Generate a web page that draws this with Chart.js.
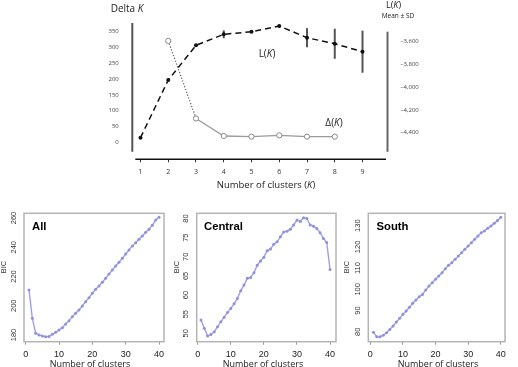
<!DOCTYPE html>
<html><head><meta charset="utf-8">
<script src="https://cdn.jsdelivr.net/npm/chart.js@4.4.1/dist/chart.umd.min.js"></script>
<style>
html,body{margin:0;padding:0;background:#fff;}
body{width:518px;height:367px;position:relative;overflow:hidden;font-family:'Open Sans',sans-serif;color:#222;}
canvas{position:absolute;}
.t{position:absolute;white-space:nowrap;line-height:1;transform:translate(-50%,-50%);}
.b{position:absolute;white-space:nowrap;line-height:1;transform:translate(0,-50%);font-family:'Liberation Sans',Arial,sans-serif;font-weight:bold;font-size:11.3px;color:#000;}
.r{position:absolute;white-space:nowrap;line-height:1;transform:translate(-50%,-50%) rotate(-90deg);font-family:'Liberation Sans',Arial,sans-serif;font-size:7.5px;color:#333;}
</style></head><body>
<canvas id="c0" width="518" height="200" style="left:0;top:0"></canvas>
<canvas id="c1" width="172" height="167" style="left:0;top:200px"></canvas>
<canvas id="c2" width="172" height="167" style="left:172px;top:200px"></canvas>
<canvas id="c3" width="174" height="167" style="left:344px;top:200px"></canvas>

<div class="t" style="left:127px;top:7.5px;font-size:10px">Delta <i>K</i></div>
<div class="t" style="left:393.5px;top:4px;font-size:9px">L(<i>K</i>)</div>
<div class="t" style="left:398px;top:16px;font-size:6.5px">Mean ± SD</div>
<div class="t" style="left:267px;top:53px;font-size:10px">L(<i>K</i>)</div>
<div class="t" style="left:334px;top:122px;font-size:10px">Δ(<i>K</i>)</div>
<div class="t" style="left:266px;top:185px;font-size:9.5px">Number of clusters (<i>K</i>)</div>

<div class="b" style="left:32px;top:227px">All</div>
<div class="b" style="left:204px;top:227px">Central</div>
<div class="b" style="left:376.5px;top:227px">South</div>
<div class="r" style="left:4px;top:267px">BIC</div>
<div class="r" style="left:177px;top:267px">BIC</div>
<div class="r" style="left:347px;top:267px">BIC</div>
<div class="t" style="left:90px;top:363px;font-size:9px">Number of clusters</div>
<div class="t" style="left:263px;top:363px;font-size:9px">Number of clusters</div>
<div class="t" style="left:438px;top:363px;font-size:9px">Number of clusters</div>

<script>
// ---------- data: top panel ----------
const topK = [1, 2, 3, 4, 5, 6, 7, 8, 9];
const deltaK = [null, 319, 76, 21, 19, 23, 19, 19, null];
const meanLK = [-4444, -3937, -3632, -3535, -3512, -3462, -3565, -3618, -3688];
const sdLK = [0, 0, 0, 35, 0, 0, 84, 132, 185];
const deltaTicks = [0, 50, 100, 150, 200, 250, 300, 350];
const lkTicks = [-3600, -3800, -4000, -4200, -4400];

// ---------- data: BIC panels ----------
const bicK = [1,2,3,4,5,6,7,8,9,10,11,12,13,14,15,16,17,18,19,20,21,22,23,24,25,26,27,28,29,30,31,32,33,34,35,36,37,38,39,40];
const bicAll = [210.8,191.4,181.2,180,179.3,178.8,179,180.5,181.8,183.4,185,187.5,189.8,192.5,194.8,197.1,199.8,202.8,205.5,208.5,211.2,213.5,216,218.8,221.7,224.4,227.2,229.7,232.4,235.4,238.1,240.9,243.1,245.4,247.7,250.2,252.3,255,258.6,260.5];
const bicCentral = [53.5,51.3,49.3,49.7,50.4,51.7,53,54.2,55.4,56.5,57.7,59.1,61.1,62.6,64.4,64.6,65.8,67.8,68.9,69.9,71.6,72,73.3,73.9,75.2,76.5,76.7,77.2,78.3,79.6,79.2,80.2,80,78.3,78,77.4,76.3,74.8,73.7,66.7];
const bicSouth = [79.7,77.6,77.6,78.4,79.5,81.1,82.7,84.6,86.3,88.2,89.8,91.5,93.4,95,96.5,97.6,99.7,101.6,103.1,104.7,106.3,107.8,109.7,111.3,112.5,114.2,115.7,117.3,118.9,120.4,122,123.6,125.1,126.7,127.5,128.8,129.9,131.1,132.4,134];
const bicXTicks = [0, 10, 20, 30, 40];
const allTicks = [180, 200, 220, 240, 260];
const centralTicks = [50, 55, 60, 65, 70, 75, 80];
const southTicks = [80, 90, 100, 110, 120, 130];

const OPEN = "'Open Sans', sans-serif";
const ARIAL = "'Liberation Sans', Arial, sans-serif";
const setTicks = arr => s => { s.ticks = arr.map(v => ({value: v})); };

// ---------- top panel ----------
const topAxes = {
  id: 'topAxes',
  afterDraw(chart) {
    const {ctx, chartArea: a} = chart;
    ctx.save();
    ctx.strokeStyle = '#555'; ctx.lineWidth = 2;
    ctx.beginPath(); ctx.moveTo(a.left, a.top); ctx.lineTo(a.left, a.bottom - 7.5); ctx.stroke();
    ctx.strokeStyle = '#666';
    ctx.beginPath(); ctx.moveTo(a.right, a.top + 8.7); ctx.lineTo(a.right, a.bottom - 7.5); ctx.stroke();
    ctx.strokeStyle = '#111'; ctx.lineWidth = 1.5;
    ctx.beginPath(); ctx.moveTo(a.left + 3, a.bottom); ctx.lineTo(a.right - 1.5, a.bottom); ctx.stroke();
    ctx.restore();
  }
};
const errBars = {
  id: 'errBars',
  beforeDatasetsDraw(chart) {
    const {ctx} = chart, xs = chart.scales.x, ys = chart.scales.yR;
    ctx.save();
    ctx.strokeStyle = '#555'; ctx.lineWidth = 2;
    topK.forEach((k, i) => {
      if (!sdLK[i]) return;
      const px = xs.getPixelForValue(k);
      ctx.beginPath();
      ctx.moveTo(px, ys.getPixelForValue(meanLK[i] + sdLK[i]));
      ctx.lineTo(px, ys.getPixelForValue(meanLK[i] - sdLK[i]));
      ctx.stroke();
    });
    ctx.restore();
  }
};

new Chart(document.getElementById('c0'), {
  type: 'line',
  data: {
    datasets: [
      {
        label: 'L(K)',
        data: topK.map((k, i) => ({x: k, y: meanLK[i]})),
        yAxisID: 'yR',
        borderColor: '#111', borderWidth: 1.5, borderDash: [6, 4],
        pointRadius: 2, pointBackgroundColor: '#111', pointBorderColor: '#111', pointBorderWidth: 0,
        tension: 0
      },
      {
        label: 'Delta K',
        data: topK.map((k, i) => ({x: k, y: deltaK[i]})),
        yAxisID: 'yL',
        borderColor: '#9a9a9a', borderWidth: 1.3,
        segment: {
          borderDash: c => c.p0DataIndex === 1 ? [1.2, 1.8] : undefined,
          borderColor: c => c.p0DataIndex === 1 ? '#666' : undefined
        },
        pointRadius: 2.6, pointBackgroundColor: '#fff', pointBorderColor: '#888', pointBorderWidth: 1,
        tension: 0
      }
    ]
  },
  options: {
    responsive: false, animation: false, devicePixelRatio: 1,
    layout: { padding: { top: 23, left: 0, right: 0, bottom: 0 } },
    plugins: { legend: { display: false }, tooltip: { enabled: false } },
    scales: {
      x: {
        type: 'linear', min: 0.705, max: 9.9,
        afterBuildTicks: setTicks(topK),
        afterFit: s => { s.height = 40.7; },
        border: { display: false },
        grid: { drawOnChartArea: false, drawTicks: true, tickLength: 3, color: '#333' },
        ticks: { font: { family: OPEN, size: 7 }, color: '#333', padding: 5, maxRotation: 0, autoSkip: false }
      },
      yL: {
        type: 'linear', position: 'left', min: -52, max: 375.07,
        afterBuildTicks: setTicks(deltaTicks),
        afterFit: s => { s.width = 132.3; },
        border: { display: false },
        grid: { display: false },
        ticks: { font: { family: OPEN, size: 6 }, color: '#444', padding: 5.5 }
      },
      yR: {
        type: 'linear', position: 'right', min: -4633.8, max: -3435.6,
        afterBuildTicks: setTicks(lkTicks),
        afterFit: s => { s.width = 130.5; },
        border: { display: false },
        grid: { display: false },
        ticks: { font: { family: OPEN, size: 6 }, color: '#444', padding: 5,
          callback: v => '–' + Math.abs(v).toLocaleString('en-US') }
      }
    }
  },
  plugins: [topAxes, errBars]
});

// ---------- BIC panels ----------
const boxPlugin = {
  id: 'box',
  afterDraw(chart) {
    const {ctx, chartArea: a} = chart;
    ctx.save();
    ctx.strokeStyle = '#b4b4b4'; ctx.lineWidth = 1.5;
    ctx.strokeRect(a.left, a.top, a.right - a.left, a.bottom - a.top);
    // rotated y tick labels, taken from the library's own ticks
    const s = chart.scales.y;
    ctx.font = '7.5px ' + ARIAL; ctx.fillStyle = '#333';
    ctx.textAlign = 'center'; ctx.textBaseline = 'middle';
    s.ticks.forEach(t => {
      ctx.save();
      ctx.translate(a.left - 10.5, s.getPixelForValue(t.value));
      ctx.rotate(-Math.PI / 2);
      ctx.fillText(String(t.value), 0, 0);
      ctx.restore();
    });
    ctx.restore();
  }
};

function bicChart(id, canvasLeft, canvasW, boxLeft, boxRight, vals, ymin, ymax, xmin, xmax, yTicks) {
  new Chart(document.getElementById(id), {
    type: 'line',
    data: {
      datasets: [{
        data: bicK.map((k, i) => ({x: k, y: vals[i]})),
        borderColor: 'rgba(150,150,230,0.9)', borderWidth: 1.4,
        pointRadius: 1.5, pointBackgroundColor: '#9090dc', pointBorderColor: '#9090dc', pointBorderWidth: 0,
        tension: 0
      }]
    },
    options: {
      responsive: false, animation: false, devicePixelRatio: 1,
      layout: { padding: { top: 13.3, left: 0, right: canvasLeft + canvasW - boxRight, bottom: 0 } },
      plugins: { legend: { display: false }, tooltip: { enabled: false } },
      scales: {
        x: {
          type: 'linear', min: xmin, max: xmax,
          afterBuildTicks: setTicks(bicXTicks),
          afterFit: s => { s.height = 167 - 141.7; },
          border: { display: false },
          grid: { drawOnChartArea: false, drawTicks: true, tickLength: 3, color: '#999' },
          ticks: { font: { family: ARIAL, size: 9 }, color: '#222', padding: 4, maxRotation: 0, autoSkip: false }
        },
        y: {
          type: 'linear', min: ymin, max: ymax,
          afterBuildTicks: setTicks(yTicks),
          afterFit: s => { s.width = boxLeft - canvasLeft; },
          border: { display: false },
          grid: { display: false },
          ticks: { display: false }
        }
      }
    },
    plugins: [boxPlugin]
  });
}

bicChart('c1', 0, 172, 24, 164, bicAll, 175.4, 263.2, -0.5, 41.5, allTicks);
bicChart('c2', 172, 172, 196.7, 336, bicCentral, 47.8, 81.36, -0.3, 41.8, centralTicks);
bicChart('c3', 344, 174, 368.3, 505, bicSouth, 75.3, 135.85, -0.6, 41.3, southTicks);
</script>
</body></html>
